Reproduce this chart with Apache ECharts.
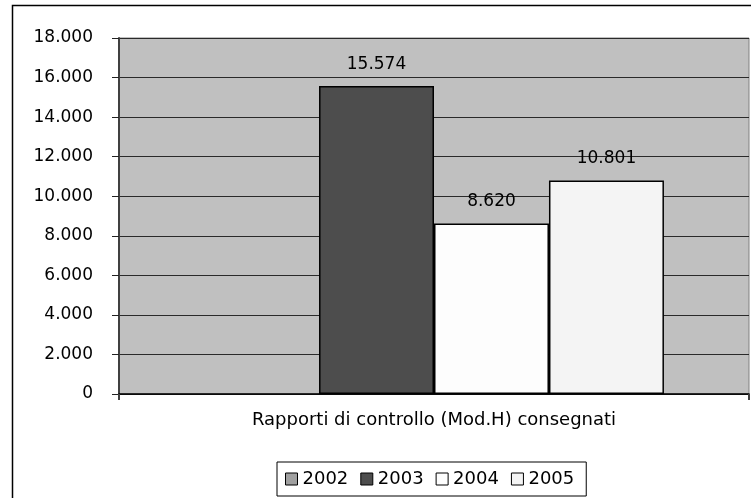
<!DOCTYPE html>
<html>
<head>
<meta charset="utf-8">
<script src="https://cdn.jsdelivr.net/npm/echarts@6/dist/echarts.min.js"></script>
<style>
html,body{margin:0;padding:0;background:#fff;}
#container{width:751px;height:498px;}
</style>
</head>
<body>
<div id="container"></div>
<script>
var categories = ['Rapporti di controllo (Mod.H) consegnati'];
var years = ['2002', '2003', '2004', '2005'];
var values = [null, 15574, 8620, 10801];
var colors = ['#A0A0A0', '#4D4D4D', '#FDFDFD', '#F4F4F4'];
var yTicks = [0, 2000, 4000, 6000, 8000, 10000, 12000, 14000, 16000, 18000];

var FONT = 'DejaVu Sans';

var fmt = function(v){
    return String(v).replace(/\B(?=(\d{3})+(?!\d))/g, '.');
};

var dom = document.querySelector('#container');
var myChart = echarts.init(dom);

var series = years.map(function(y, i){
    return {
        name: y,
        type: 'bar',
        data: [values[i]],
        barGap: '0%',
        barCategoryGap: '27%',
        itemStyle: {color: colors[i], borderColor: '#000', borderWidth: 1.5},
        label: {
            show: true,
            position: 'top',
            distance: 13,
            color: '#000',
            fontFamily: FONT,
            fontSize: 17,
            formatter: function(p){ return fmt(p.value); }
        }
    };
});

var option = {
    animation: false,
    color: colors,
    graphic: [{
        type: 'rect',
        shape: {x: 12.5, y: 5.5, width: 760, height: 520},
        style: {fill: null, stroke: '#000', lineWidth: 1.5},
        silent: true
    }],
    grid: {
        left: 119, right: 2, top: 38, bottom: 104,
        show: true,
        backgroundColor: '#C0C0C0',
        borderColor: '#808080',
        borderWidth: 1
    },
    legend: {
        data: years,
        bottom: 2,
        left: 277,
        itemWidth: 12,
        itemHeight: 12,
        itemGap: 12,
        padding: [8, 12, 8, 8],
        borderColor: '#000',
        borderWidth: 1,
        icon: 'rect',
        itemStyle: {borderColor: '#000', borderWidth: 1},
        textStyle: {fontFamily: FONT, fontSize: 18, color: '#000'}
    },
    xAxis: {
        type: 'category',
        data: categories,
        axisLine: {show: true, lineStyle: {color: '#000', width: 1.5}},
        axisTick: {show: true, length: 6, lineStyle: {color: '#404040', width: 2}},
        axisLabel: {
            margin: 17,
            color: '#000',
            fontFamily: FONT,
            fontSize: 18
        }
    },
    yAxis: {
        type: 'value',
        min: yTicks[0],
        max: yTicks[yTicks.length - 1],
        interval: yTicks[1] - yTicks[0],
        axisLine: {show: true, lineStyle: {color: '#404040', width: 2}},
        axisTick: {show: true, length: 7, lineStyle: {color: '#222'}},
        splitLine: {lineStyle: {color: '#2a2a2a', width: 1}},
        axisLabel: {
            margin: 26,
            color: '#000',
            fontFamily: FONT,
            fontSize: 17,
            formatter: function(v){ return fmt(v); }
        }
    },
    series: series
};

myChart.setOption(option);
</script>
</body>
</html>
